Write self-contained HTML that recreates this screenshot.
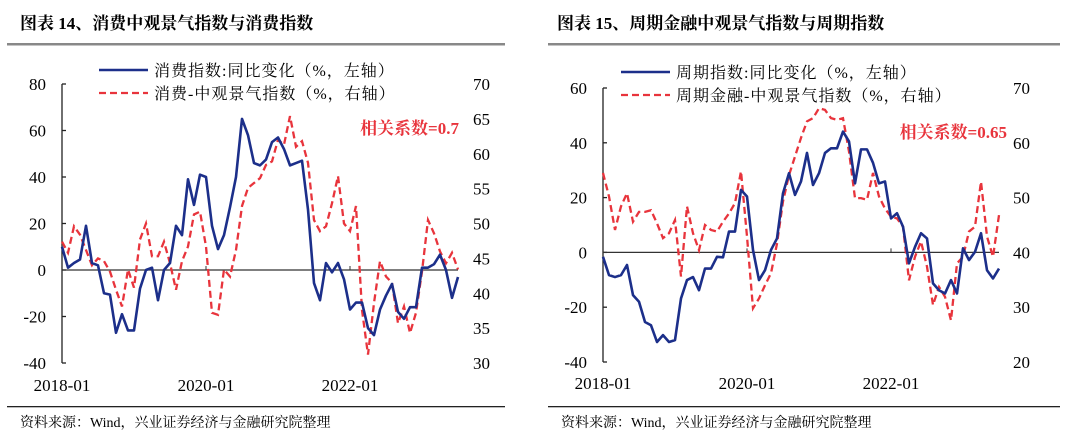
<!DOCTYPE html>
<html><head><meta charset="utf-8">
<style>
body{margin:0;background:#fff;width:1080px;height:441px;overflow:hidden}
svg text{font-family:"Liberation Serif","Noto Serif CJK SC",serif}
</style></head><body>
<svg id="s" width="1080" height="441" xmlns="http://www.w3.org/2000/svg">
<g>
<text x="20" y="29" font-size="17" font-weight="bold">图表 14、消费中观景气指数与消费指数</text>
<rect x="7" y="43" width="498" height="2.5" fill="#888"/>
<rect x="7" y="406" width="498" height="1.3" fill="#222"/>
<text x="20" y="427" font-size="14">资料来源：Wind，兴业证券经济与金融研究院整理</text>
</g>
<g>
<text x="557" y="29" font-size="17" font-weight="bold">图表 15、周期金融中观景气指数与周期指数</text>
<rect x="548" y="43" width="512" height="2.5" fill="#888"/>
<rect x="548" y="406" width="512" height="1.3" fill="#222"/>
<text x="561" y="427" font-size="14">资料来源：Wind，兴业证券经济与金融研究院整理</text>
</g>
</svg>
<script>
const xLabels=["2018-01","2020-01","2022-01"];
const xLabelIdx=[0,24,48];
const leftBlue=[10,1,3,4.5,19,3,2,-10,-10.6,-27,-19,-26,-26,-8,0,1,-13,0,3,19,15,39,28,41,40,19,9,15,27,40,65,58,46,45,47.5,55,57,52,45,46,47,26,-5.6,-13,3,-1,3,-4,-17,-14,-14,-25,-28,-17,-11,-6,-18,-21,-16,-16,1,1,2.5,6.6,0,-12,-3];
const leftRed=[47.4,45.8,49.6,48.4,46.2,44,45,44.6,43.1,40.5,38.1,43.4,40.8,47.7,50,45.3,45.3,47.4,44.3,40.5,44.6,46.7,51.3,51.7,46.7,37.2,36.9,43.4,42.4,46.2,52.5,55.1,55.8,56.5,58.4,58.9,62,61.3,65.4,61,61.8,58.7,50.5,48.9,49.6,52.9,56.8,50,48.9,52.5,37.6,31.2,38.6,44.6,42.4,41.5,35.7,38.1,34.3,37.2,43.1,50.5,48.6,46,44.3,45.8,43.4];
const rightBlue=[-1.6,-8.3,-9,-8.3,-4.6,-15.6,-18,-25.4,-26.6,-32.7,-30.2,-32.7,-32,-16.8,-10.1,-9,-13.8,-5.9,-5.9,-1.6,-1.8,7.6,7.6,22.8,20.4,0.9,-10.1,-6.5,0.9,5.1,21.6,28.9,21,25.9,36.3,24.6,28.9,36.3,38,38,44.1,40.5,25.2,37.6,37.6,32.7,25.2,25.9,12.4,14.3,9.4,-4,2,7,5.1,-11.3,-13.8,-15,-10.1,-15,1.5,-2.8,0.2,7,-6.5,-9.5,-5.9];
const rightRed=[54.5,50.2,44.1,48.4,50.8,45.6,47.4,47.4,47.7,45.3,42.6,43.5,45.9,35.6,48.4,43.5,40.4,45,44.1,43.8,45.6,47.1,49,54.8,42.9,29.8,31.6,34,36.2,41.6,49.3,54.1,57.5,60.9,63.9,64.5,66.3,66,64.5,64.2,64.5,58.4,49.9,49.9,49.6,54.5,50.2,48,46.5,46.2,44.7,34.9,39.2,42,37.4,30.4,33.7,31.9,27.6,38,39.2,43.8,44.7,52.9,42.9,39.2,46.8];
const leftTicksL=[80,60,40,20,0,-20,-40];
const leftTicksR=[70,65,60,55,50,45,40,35,30];
const rightTicksL=[60,40,20,0,-20,-40];
const rightTicksR=[70,60,50,40,30,20];

const NS="http://www.w3.org/2000/svg";
const svg=document.getElementById('s');
function mk(tag,attrs,parent){const e=document.createElementNS(NS,tag);for(const k in attrs)e.setAttribute(k,attrs[k]);(parent||svg).appendChild(e);return e;}

function panel(cfg){
  const g=mk('g',{});
  
  
  const x=i=>cfg.x0+i*cfg.step;
  const yL=v=>cfg.top+(cfg.lMax-v)/(cfg.lMax-cfg.lMin)*(cfg.bot-cfg.top);
  const yR=v=>cfg.top+(cfg.rMax-v)/(cfg.rMax-cfg.rMin)*(cfg.bot-cfg.top);
  // left axis
  const ax=mk('line',{x1:cfg.x0,x2:cfg.x0,y1:cfg.top,y2:cfg.bot,stroke:'#222','stroke-width':1.3},g);
  
  
  cfg.ticksL.forEach(v=>{
    const t=mk('line',{x1:cfg.x0,x2:cfg.x0+4,y1:yL(v),y2:yL(v),stroke:'#222','stroke-width':1.3},g);
    
    
    const l=mk('text',{x:cfg.x0-16,y:yL(v)+6,'font-size':17,'text-anchor':'end'},g);
    l.textContent=v;
    
    
  });
  cfg.ticksR.forEach(v=>{
    const l=mk('text',{x:cfg.rLabX,y:yR(v)+6,'font-size':17},g);
    l.textContent=v;
    
    
  });
  const n=cfg.blue.length;
  const z=mk('line',{x1:cfg.x0,x2:x(n-1),y1:yL(0),y2:yL(0),stroke:'#333','stroke-width':1.3},g);
  
  
  xLabelIdx.forEach((idx,k)=>{
    if(k>0){const t=mk('line',{x1:x(idx),x2:x(idx),y1:yL(0),y2:yL(0)-4,stroke:'#333'},g);
      
      }
    const l=mk('text',{x:x(idx),y:cfg.xLabY,'font-size':17,'text-anchor':'middle'},g);
    l.textContent=xLabels[k];
    
    
  });
  const rp=mk('polyline',{points:cfg.red.map((v,i)=>x(i)+','+yR(v)).join(' '),fill:'none',stroke:'#e8343c','stroke-width':2.3,'stroke-dasharray':'7,4'},g);
  
  
  const bp=mk('polyline',{points:cfg.blue.map((v,i)=>x(i)+','+yL(v)).join(' '),fill:'none',stroke:'#1c2f8a','stroke-width':2.6,'stroke-linejoin':'round'},g);
  
  
  // legend
  const l1=mk('line',{x1:cfg.legX,x2:cfg.legX+49,y1:cfg.legY,y2:cfg.legY,stroke:'#1c2f8a','stroke-width':2.6},g);
  
  
  const t1=mk('text',{x:cfg.legX+55,y:cfg.legY+6,'font-size':16,'letter-spacing':1},g);
  t1.textContent=cfg.leg1;
  
  
  const l2=mk('line',{x1:cfg.legX,x2:cfg.legX+49,y1:cfg.legY+23,y2:cfg.legY+23,stroke:'#e8343c','stroke-width':2.3,'stroke-dasharray':'7,4'},g);
  
  
  const t2=mk('text',{x:cfg.legX+55,y:cfg.legY+29,'font-size':16,'letter-spacing':1},g);
  t2.textContent=cfg.leg2;
  
  
  const c=mk('text',{x:cfg.corrX,y:cfg.corrY,'font-size':17,'font-weight':'bold',fill:'#e8343c','text-anchor':'end'},g);
  c.textContent=cfg.corr;
  
  
}
panel({name:'consumer-chart',x0:62,step:6,top:84,bot:363,lMax:80,lMin:-40,rMax:70,rMin:30,
  ticksL:leftTicksL,ticksR:leftTicksR,rLabX:473,xLabY:391,blue:leftBlue,red:leftRed,
  legX:99,legY:70,leg1:'消费指数:同比变化（%，左轴）',leg2:'消费-中观景气指数（%，右轴）',
  corr:'相关系数=0.7',corrX:459,corrY:134});
panel({name:'cyclical-chart',x0:603,step:6,top:88,bot:362,lMax:60,lMin:-40,rMax:70,rMin:20,
  ticksL:rightTicksL,ticksR:rightTicksR,rLabX:1013,xLabY:389,blue:rightBlue,red:rightRed,
  legX:621,legY:72,leg1:'周期指数:同比变化（%，左轴）',leg2:'周期金融-中观景气指数（%，右轴）',
  corr:'相关系数=0.65',corrX:1007,corrY:138});
</script>
</body></html>
